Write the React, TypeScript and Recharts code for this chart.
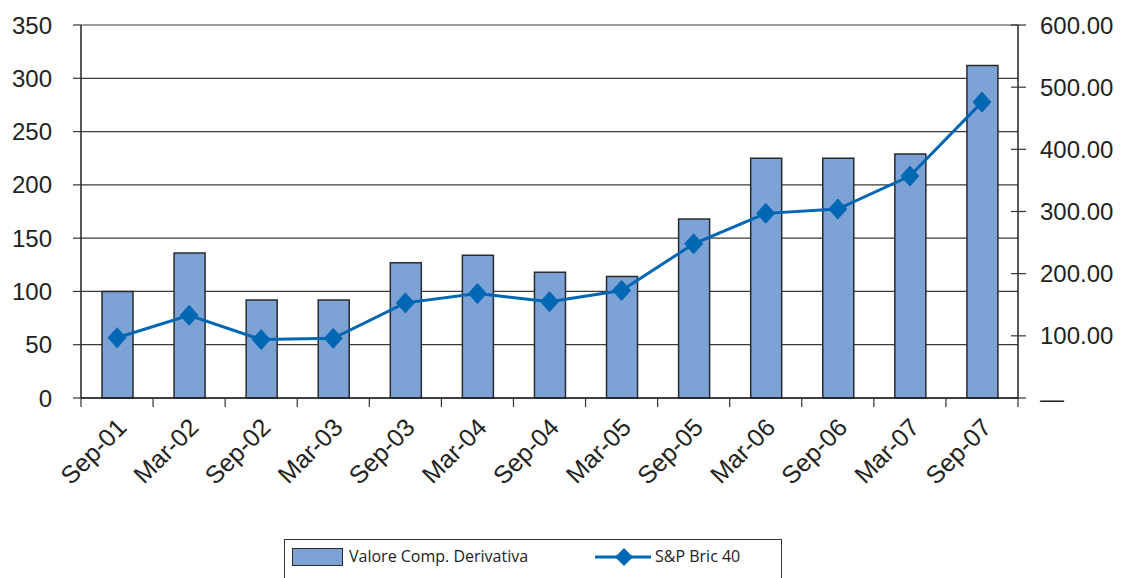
import React from 'react';
import { ComposedChart, Bar, Line, XAxis, YAxis, CartesianGrid } from 'recharts';

const categories = ['Sep-01', 'Mar-02', 'Sep-02', 'Mar-03', 'Sep-03', 'Mar-04', 'Sep-04', 'Mar-05', 'Sep-05', 'Mar-06', 'Sep-06', 'Mar-07', 'Sep-07'];
const valoreComp = [100, 136, 92, 92, 127, 134, 118, 114, 168, 225, 225, 229, 312];
const spBric = [97, 133, 94, 96, 153, 168, 155, 173, 248, 297, 304, 357, 476];
const leftTicks = [0, 50, 100, 150, 200, 250, 300, 350];
const rightTicks = [0, 100, 200, 300, 400, 500, 600];

const data = categories.map((c, i) => ({ name: c, valore: valoreComp[i], sp: spBric[i] }));

const FONT = "'Liberation Sans', Arial, sans-serif";
const BAND = (1018 - 81) / 13;

const XTick = (props: any) => {
  const { x, y, payload, index } = props;
  const ax = x + 11;
  const ay = y + 31;
  return (
    <g>
      <line x1={x - BAND / 2} x2={x - BAND / 2} y1={y} y2={y + 9} stroke="#333" strokeWidth={1.2} />
      {index === categories.length - 1 && (
        <line x1={x + BAND / 2} x2={x + BAND / 2} y1={y} y2={y + 9} stroke="#333" strokeWidth={1.2} />
      )}
      <text
        x={ax}
        y={ay}
        textAnchor="end"
        transform={`rotate(-45, ${ax}, ${ay})`}
        fontFamily={FONT}
        fontSize={25}
        fill="#222"
      >
        {payload.value}
      </text>
    </g>
  );
};

const RightTick = (props: any) => {
  const { x, y, payload } = props;
  const label = payload.value === 0 ? '—' : Number(payload.value).toFixed(2);
  return (
    <g>
      <line x1={x - 7} x2={x + 8} y1={y} y2={y} stroke="#333" strokeWidth={1.2} />
      <text x={x + 22} y={y} dy={8.5} textAnchor="start" fontFamily={FONT} fontSize={24} fill="#222">
        {label}
      </text>
    </g>
  );
};

const Diamond = (props: any) => {
  const { cx, cy } = props;
  if (cx == null || cy == null) return null;
  return (
    <polygon
      points={`${cx},${cy - 10} ${cx + 9},${cy} ${cx},${cy + 10} ${cx - 9},${cy}`}
      fill="#0067B4"
      stroke="#0067B4"
      strokeWidth={1}
    />
  );
};

export default function App() {
  return (
    <div style={{ position: 'absolute', left: 0, top: 0, width: 1123, height: 578, background: '#fff' }}>
      <ComposedChart width={1123} height={578} data={data} margin={{ top: 25, right: 0, left: 0, bottom: 0 }}>
        <CartesianGrid yAxisId="left" vertical={false} stroke="#3a3a3a" strokeWidth={1.2} />
        <XAxis
          dataKey="name"
          height={180}
          tickSize={0}
          tickMargin={0}
          tickLine={false}
          axisLine={{ stroke: '#222', strokeWidth: 1.5 }}
          tick={<XTick />}
          interval={0}
        />
        <YAxis
          yAxisId="left"
          orientation="left"
          width={81}
          domain={[0, 350]}
          ticks={leftTicks}
          interval={0}
          tickSize={8}
          tickMargin={21}
          axisLine={{ stroke: '#222', strokeWidth: 1.5 }}
          tickLine={{ stroke: '#333', strokeWidth: 1.2 }}
          tick={{ fontFamily: FONT, fontSize: 24, fill: '#222' }}
        />
        <YAxis
          yAxisId="right"
          orientation="right"
          width={105}
          domain={[0, 600]}
          ticks={rightTicks}
          interval={0}
          tickSize={0}
          tickMargin={0}
          tickLine={false}
          axisLine={{ stroke: '#222', strokeWidth: 1.5 }}
          tick={<RightTick />}
        />
        <Bar
          yAxisId="left"
          dataKey="valore"
          barSize={31}
          fill="#7DA2D6"
          stroke="#2a2a2a"
          strokeWidth={1.5}
          isAnimationActive={false}
        />
        <Line
          yAxisId="right"
          dataKey="sp"
          stroke="#0067B4"
          strokeWidth={3}
          dot={<Diamond />}
          activeDot={false}
          isAnimationActive={false}
        />
      </ComposedChart>
      <div
        style={{
          position: 'absolute',
          left: 284,
          top: 539,
          width: 498,
          height: 45,
          border: '1px solid #333',
          boxSizing: 'border-box',
          fontFamily: "'Open Sans', sans-serif",
          fontSize: 16,
          color: '#222',
        }}
      >
        <div style={{ position: 'absolute', left: 7, top: 8, width: 51, height: 18, background: '#7DA2D6', border: '1px solid #2a2a2a', boxSizing: 'border-box' }} />
        <div style={{ position: 'absolute', left: 64, top: 5, whiteSpace: 'nowrap' }}>Valore Comp. Derivativa</div>
        <svg style={{ position: 'absolute', left: 310, top: 7 }} width={56} height={20}>
          <line x1={0} x2={56} y1={10} y2={10} stroke="#0067B4" strokeWidth={3} />
          <polygon points="29,1 38,10 29,19 20,10" fill="#0067B4" />
        </svg>
        <div style={{ position: 'absolute', left: 370, top: 5, whiteSpace: 'nowrap' }}>S&amp;P Bric 40</div>
      </div>
    </div>
  );
}
